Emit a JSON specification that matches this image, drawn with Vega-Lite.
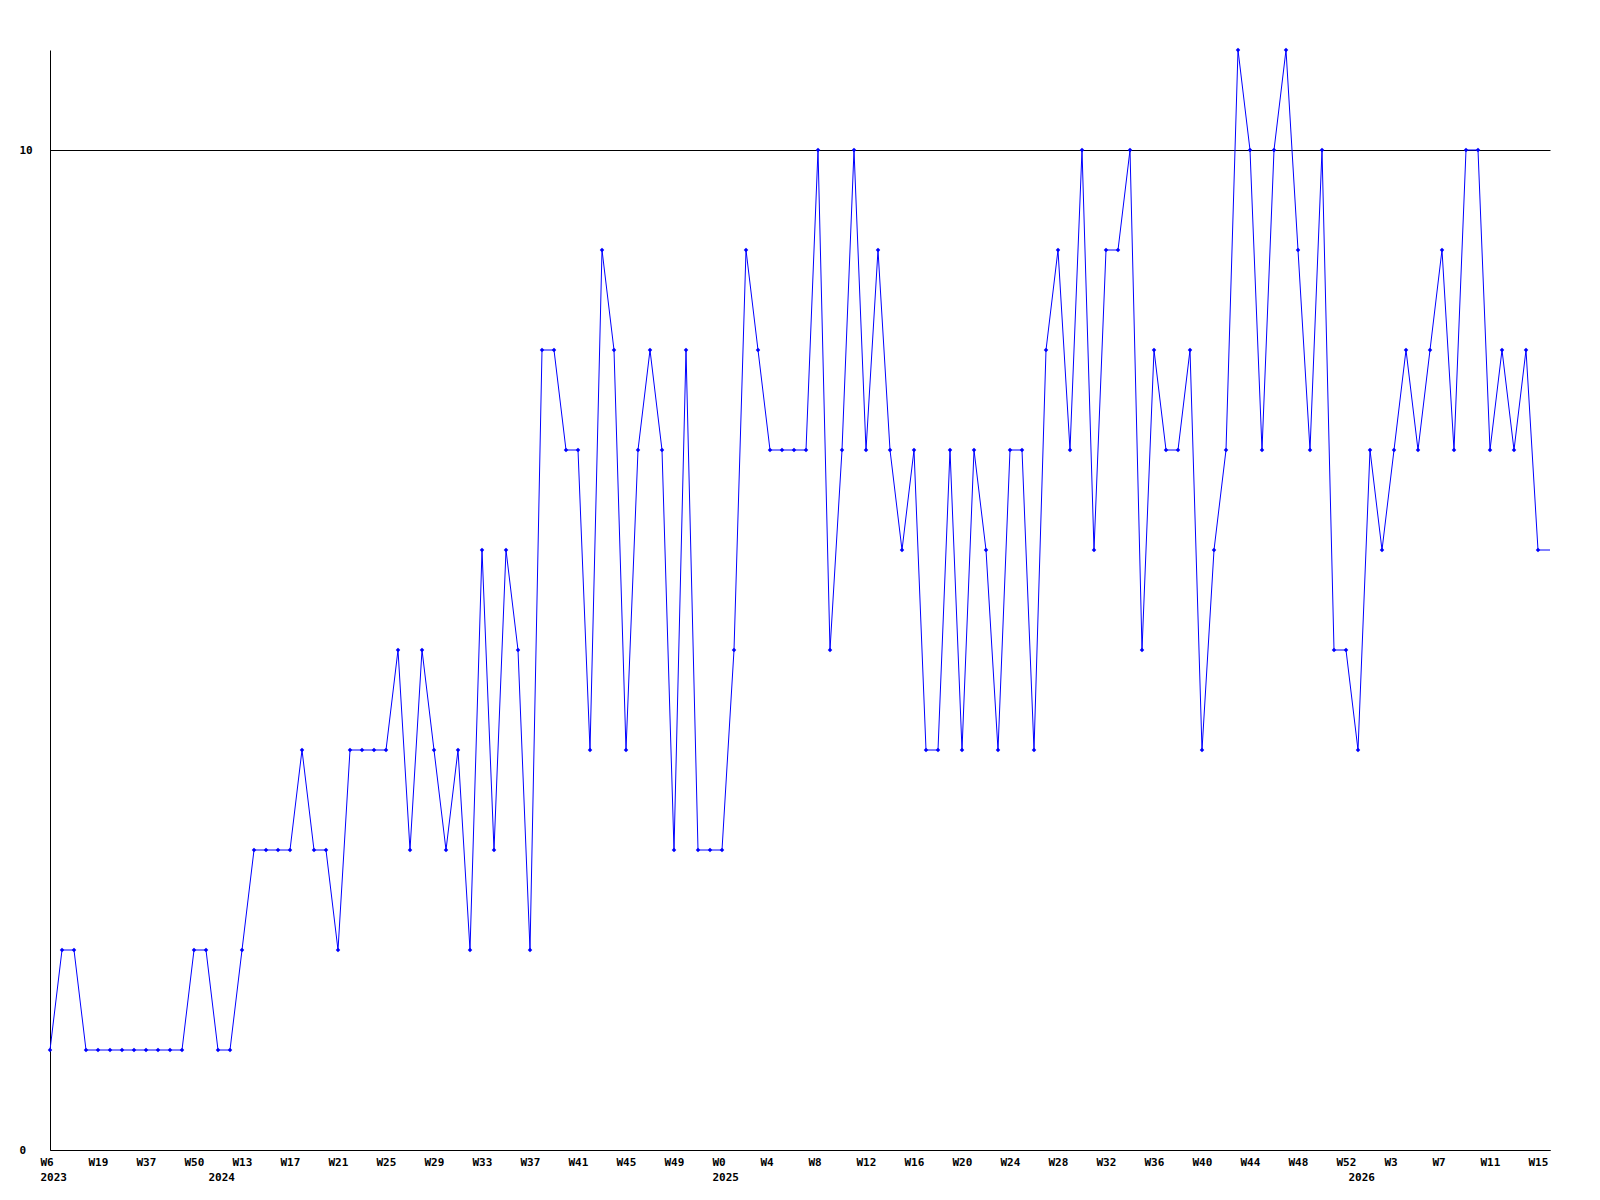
{
  "$schema": "https://vega.github.io/schema/vega-lite/v6.json",
  "autosize": {"type": "none"},
  "padding": {"left": 50, "top": 50, "right": 50, "bottom": 50},
  "width": 1500,
  "height": 1100,
  "background": "white",
  "config": {
    "view": {"stroke": null},
    "axis": {
      "labelFont": "DejaVu Sans Mono",
      "labelFontWeight": "bold",
      "labelFontSize": 11,
      "labelColor": "black",
      "domainColor": "black",
      "domainWidth": 1,
      "ticks": false,
      "tickSize": 0,
      "title": null,
      "labelOverlap": false,
      "labelFlush": false,
      "labelBound": false
    }
  },
  "data": {
    "values": [
      {"wk": "2023-06", "n": 1}, {"wk": "2023-09", "n": 2}, {"wk": "2023-12", "n": 2}, {"wk": "2023-15", "n": 1},
      {"wk": "2023-19", "n": 1}, {"wk": "2023-23", "n": 1}, {"wk": "2023-28", "n": 1}, {"wk": "2023-32", "n": 1},
      {"wk": "2023-37", "n": 1}, {"wk": "2023-40", "n": 1}, {"wk": "2023-44", "n": 1}, {"wk": "2023-47", "n": 1},
      {"wk": "2023-50", "n": 2}, {"wk": "2023-52", "n": 2}, {"wk": "2024-02", "n": 1}, {"wk": "2024-08", "n": 1},
      {"wk": "2024-13", "n": 2}, {"wk": "2024-14", "n": 3}, {"wk": "2024-15", "n": 3}, {"wk": "2024-16", "n": 3},
      {"wk": "2024-17", "n": 3}, {"wk": "2024-18", "n": 4}, {"wk": "2024-19", "n": 3}, {"wk": "2024-20", "n": 3},
      {"wk": "2024-21", "n": 2}, {"wk": "2024-22", "n": 4}, {"wk": "2024-23", "n": 4}, {"wk": "2024-24", "n": 4},
      {"wk": "2024-25", "n": 4}, {"wk": "2024-26", "n": 5}, {"wk": "2024-27", "n": 3}, {"wk": "2024-28", "n": 5},
      {"wk": "2024-29", "n": 4}, {"wk": "2024-30", "n": 3}, {"wk": "2024-31", "n": 4}, {"wk": "2024-32", "n": 2},
      {"wk": "2024-33", "n": 6}, {"wk": "2024-34", "n": 3}, {"wk": "2024-35", "n": 6}, {"wk": "2024-36", "n": 5},
      {"wk": "2024-37", "n": 2}, {"wk": "2024-38", "n": 8}, {"wk": "2024-39", "n": 8}, {"wk": "2024-40", "n": 7},
      {"wk": "2024-41", "n": 7}, {"wk": "2024-42", "n": 4}, {"wk": "2024-43", "n": 9}, {"wk": "2024-44", "n": 8},
      {"wk": "2024-45", "n": 4}, {"wk": "2024-46", "n": 7}, {"wk": "2024-47", "n": 8}, {"wk": "2024-48", "n": 7},
      {"wk": "2024-49", "n": 3}, {"wk": "2024-50", "n": 8}, {"wk": "2024-51", "n": 3}, {"wk": "2024-52", "n": 3},
      {"wk": "2025-00", "n": 3}, {"wk": "2025-01", "n": 5}, {"wk": "2025-02", "n": 9}, {"wk": "2025-03", "n": 8},
      {"wk": "2025-04", "n": 7}, {"wk": "2025-05", "n": 7}, {"wk": "2025-06", "n": 7}, {"wk": "2025-07", "n": 7},
      {"wk": "2025-08", "n": 10}, {"wk": "2025-09", "n": 5}, {"wk": "2025-10", "n": 7}, {"wk": "2025-11", "n": 10},
      {"wk": "2025-12", "n": 7}, {"wk": "2025-13", "n": 9}, {"wk": "2025-14", "n": 7}, {"wk": "2025-15", "n": 6},
      {"wk": "2025-16", "n": 7}, {"wk": "2025-17", "n": 4}, {"wk": "2025-18", "n": 4}, {"wk": "2025-19", "n": 7},
      {"wk": "2025-20", "n": 4}, {"wk": "2025-21", "n": 7}, {"wk": "2025-22", "n": 6}, {"wk": "2025-23", "n": 4},
      {"wk": "2025-24", "n": 7}, {"wk": "2025-25", "n": 7}, {"wk": "2025-26", "n": 4}, {"wk": "2025-27", "n": 8},
      {"wk": "2025-28", "n": 9}, {"wk": "2025-29", "n": 7}, {"wk": "2025-30", "n": 10}, {"wk": "2025-31", "n": 6},
      {"wk": "2025-32", "n": 9}, {"wk": "2025-33", "n": 9}, {"wk": "2025-34", "n": 10}, {"wk": "2025-35", "n": 5},
      {"wk": "2025-36", "n": 8}, {"wk": "2025-37", "n": 7}, {"wk": "2025-38", "n": 7}, {"wk": "2025-39", "n": 8},
      {"wk": "2025-40", "n": 4}, {"wk": "2025-41", "n": 6}, {"wk": "2025-42", "n": 7}, {"wk": "2025-43", "n": 11},
      {"wk": "2025-44", "n": 10}, {"wk": "2025-45", "n": 7}, {"wk": "2025-46", "n": 10}, {"wk": "2025-47", "n": 11},
      {"wk": "2025-48", "n": 9}, {"wk": "2025-49", "n": 7}, {"wk": "2025-50", "n": 10}, {"wk": "2025-51", "n": 5},
      {"wk": "2025-52", "n": 5}, {"wk": "2026-00", "n": 4}, {"wk": "2026-01", "n": 7}, {"wk": "2026-02", "n": 6},
      {"wk": "2026-03", "n": 7}, {"wk": "2026-04", "n": 8}, {"wk": "2026-05", "n": 7}, {"wk": "2026-06", "n": 8},
      {"wk": "2026-07", "n": 9}, {"wk": "2026-08", "n": 7}, {"wk": "2026-09", "n": 10}, {"wk": "2026-10", "n": 10},
      {"wk": "2026-11", "n": 7}, {"wk": "2026-12", "n": 8}, {"wk": "2026-13", "n": 7}, {"wk": "2026-14", "n": 8},
      {"wk": "2026-15", "n": 6}, {"wk": "2026-16", "n": 6}
    ]
  },
  "encoding": {
    "y": {
      "field": "n",
      "type": "quantitative",
      "scale": {"domain": [0, 11], "nice": false, "zero": true},
      "axis": {
        "values": [0, 10],
        "grid": true,
        "gridColor": "black",
        "gridOpacity": 1,
        "gridWidth": 1,
        "labelAlign": "left",
        "labelBaseline": "middle",
        "labelPadding": 31
      }
    }
  },
  "layer": [
    {
      "mark": {"type": "line", "color": "#0000ff", "strokeWidth": 1},
      "encoding": {
        "x": {
          "field": "wk",
          "type": "ordinal",
          "scale": {"type": "point", "padding": 0},
          "axis": {
            "orient": "bottom",
            "values": ["2023-06", "2023-19", "2023-37", "2023-50", "2024-13", "2024-17", "2024-21", "2024-25", "2024-29", "2024-33", "2024-37", "2024-41", "2024-45", "2024-49", "2025-00", "2025-04", "2025-08", "2025-12", "2025-16", "2025-20", "2025-24", "2025-28", "2025-32", "2025-36", "2025-40", "2025-44", "2025-48", "2025-52", "2026-03", "2026-07", "2026-11", "2026-15"],
            "labelExpr": "'W' + toNumber(slice(datum.value, 5))",
            "labelAngle": 0,
            "labelAlign": "left",
            "labelBaseline": "top",
            "labelOffset": -10,
            "labelPadding": 6
          }
        }
      }
    },
    {
      "transform": [{"filter": "datum.wk != '2026-16'"}],
      "mark": {"type": "point", "shape": "diamond", "filled": true, "color": "#0000ff", "size": 20, "opacity": 1},
      "encoding": {
        "x": {
          "field": "wk",
          "type": "ordinal",
          "scale": {"type": "point", "padding": 0},
          "axis": {
            "orient": "bottom",
            "values": ["2023-06", "2024-02", "2025-00", "2026-00"],
            "labelExpr": "slice(datum.value, 0, 4)",
            "labelAngle": 0,
            "labelAlign": "left",
            "labelBaseline": "top",
            "labelOffset": -10,
            "labelPadding": 21,
            "domain": false
          }
        }
      }
    }
  ],
  "resolve": {"axis": {"x": "independent"}}
}
